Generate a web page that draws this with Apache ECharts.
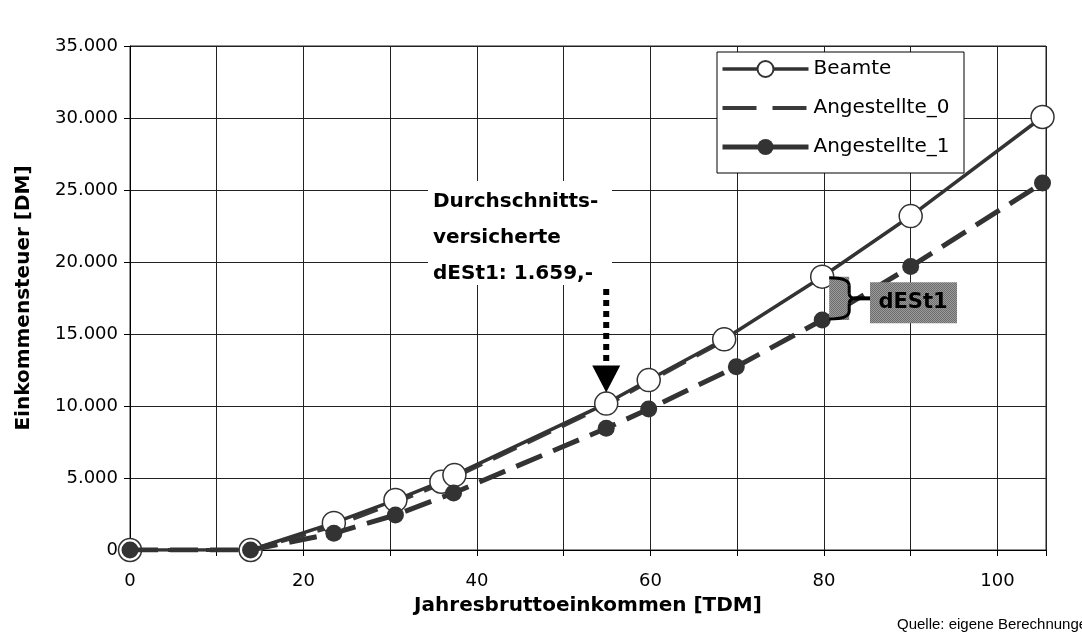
<!DOCTYPE html>
<html>
<head>
<meta charset="utf-8">
<script src="https://cdn.jsdelivr.net/npm/echarts@6/dist/echarts.min.js"></script>
<style>
  html, body { margin: 0; padding: 0; background: #fff; }
  #chart { width: 1082px; height: 637px; }
</style>
</head>
<body>
<div id="chart"></div>
<script>
  // Jahresbruttoeinkommen [TDM] / Einkommensteuer [DM]
  var beamteX = [0, 13.9, 23.5, 30.6, 35.9, 37.4, 54.9, 59.8, 68.5, 79.8, 90.0, 105.2]
  var beamteY = [0, 0, 1880, 3470, 4740, 5200, 10170, 11800, 14630, 18980, 23190, 30070]
  var ang0X = [0, 13.9, 23.5, 30.6, 35.9, 37.4, 54.9, 59.8, 68.5]
  var ang0Y = [0, 0, 1650, 3300, 4600, 5060, 10050, 11700, 14540]
  var ang1X = [0, 13.9, 23.5, 30.6, 37.3, 54.9, 59.8, 69.9, 79.8, 90.0, 105.2]
  var ang1Y = [0, 0, 1160, 2430, 3960, 8450, 9790, 12730, 15970, 19680, 25490]
  var noteLines = ['Durchschnitts-', 'versicherte', 'dESt1: 1.659,-']
  var noteAt = [54.9, 10170]   // Pfeil zeigt auf diesen Punkt
  var bracketAt = [79.8, 18980, 15970]

  var font = 'DejaVu Sans'
  var ink = '#333'

  function pairs(xs, ys) {
    return xs.map(function (x, i) { return [x, ys[i]] })
  }
  function dm(v) {
    return String(v).replace(/\B(?=(\d{3})+(?!\d))/g, '.')
  }

  // grau gepunktete Füllung wie im Original
  var pat = document.createElement('canvas')
  pat.width = 2; pat.height = 2
  var pc = pat.getContext('2d')
  pc.fillStyle = '#9a9a9a'; pc.fillRect(0, 0, 2, 2)
  pc.fillStyle = '#6e6e6e'; pc.fillRect(0, 0, 1, 1); pc.fillRect(1, 1, 1, 1)
  var texture = {image: pat, repeat: 'repeat'}

  var chart = echarts.init(document.getElementById('chart'))
  var option = {
    backgroundColor: '#fff',
    animation: false,
    textStyle: {fontFamily: font, color: '#000'},
    grid: {left: 130, right: 36, top: 46, bottom: 87, show: true, borderColor: '#222', borderWidth: 1},
    legend: {
      data: [
        {name: 'Beamte', lineStyle: {width: 3.5}},
        {name: 'Angestellte_0', itemStyle: {opacity: 0}, lineStyle: {type: [34, 16], width: 4}},
        {name: 'Angestellte_1', lineStyle: {type: 'solid', width: 5}}
      ],
      orient: 'vertical',
      left: 720, top: 59,
      itemWidth: 86, itemHeight: 20, itemGap: 19,
      padding: 0,
      textStyle: {fontFamily: font, fontSize: 20, color: '#000'},
      z: 20
    },
    xAxis: {
      type: 'value',
      min: 0, max: 105.6, interval: 10,
      name: 'Jahresbruttoeinkommen [TDM]',
      nameLocation: 'middle', nameGap: 46,
      nameTextStyle: {fontFamily: font, fontSize: 20, fontWeight: 'bold', color: '#000'},
      axisLine: {lineStyle: {color: '#000', width: 1}},
      axisTick: {show: true, length: 6, lineStyle: {color: '#000'}},
      axisLabel: {
        margin: 22, fontSize: 18, color: '#000', fontFamily: font,
        formatter: function (v) { return v % 20 === 0 ? String(v) : '' }
      },
      splitLine: {show: true, lineStyle: {color: '#222', width: 1}}
    },
    yAxis: {
      type: 'value',
      min: 0, max: 35000, interval: 5000,
      name: 'Einkommensteuer [DM]',
      nameLocation: 'middle', nameGap: 96,
      nameTextStyle: {fontFamily: font, fontSize: 20, fontWeight: 'bold', color: '#000'},
      axisLine: {show: true, lineStyle: {color: '#000', width: 1}},
      axisTick: {show: true, length: 6, lineStyle: {color: '#000'}},
      axisLabel: {margin: 12, fontSize: 18, color: '#000', fontFamily: font, formatter: dm},
      splitLine: {show: true, lineStyle: {color: '#222', width: 1}}
    },
    series: [
      {
        name: 'Angestellte_0',
        type: 'line',
        z: 2,
        data: pairs(ang0X, ang0Y),
        symbol: 'none',
        lineStyle: {color: '#3a3a3a', width: 4, type: [26, 12]},
        itemStyle: {color: '#3a3a3a'}
      },
      {
        name: 'Beamte',
        type: 'line',
        z: 3,
        data: pairs(beamteX, beamteY),
        symbol: 'circle',
        symbolSize: 23,
        lineStyle: {color: ink, width: 3.5},
        itemStyle: {color: '#fff', borderColor: ink, borderWidth: 1.5}
      },
      {
        name: 'Angestellte_1',
        type: 'line',
        z: 4,
        data: pairs(ang1X, ang1Y),
        symbol: 'circle',
        symbolSize: 17,
        lineStyle: {color: ink, width: 5, type: [28, 12]},
        itemStyle: {color: ink}
      }
    ]
  }
  chart.setOption(option)

  // Anmerkungen: Textkasten, Pfeil, Klammer dESt1
  var tip = chart.convertToPixel({gridIndex: 0}, noteAt)
  var bTop = chart.convertToPixel({gridIndex: 0}, [bracketAt[0], bracketAt[1]])
  var bBot = chart.convertToPixel({gridIndex: 0}, [bracketAt[0], bracketAt[2]])
  var ax = tip[0], tipY = tip[1] - 11
  var bx = bTop[0] + 7, by0 = bTop[1], by1 = bBot[1], bm = (by0 + by1) / 2
  var bw = 20, br = bx + bw
  var brace = {stroke: '#000', lineWidth: 3, fill: null}

  chart.setOption({
    graphic: [
      // Legendenrahmen
      {type: 'rect', z: 10, shape: {x: 717, y: 52, width: 247, height: 121},
        style: {fill: '#fff', stroke: '#000', lineWidth: 1}},
      // Textkasten
      {type: 'rect', z: 10, shape: {x: 428, y: 181, width: 184, height: 104},
        style: {fill: '#fff'}},
      {type: 'text', z: 11, x: 433, y: 184,
        style: {text: noteLines.join('\n'), font: 'bold 20px "' + font + '"', fill: '#000', lineHeight: 36}},
      // Pfeil
      {type: 'line', z: 11, shape: {x1: ax, y1: 289, x2: ax, y2: tipY - 26},
        style: {stroke: '#000', lineWidth: 6, lineDash: [6, 5]}},
      {type: 'polygon', z: 11, shape: {points: [[ax - 14, tipY - 27], [ax + 14, tipY - 27], [ax, tipY]]},
        style: {fill: '#000'}},
      // Klammer
      {type: 'rect', z: 11, shape: {x: bx, y: by0, width: bw, height: by1 - by0},
        style: {fill: texture}},
      {type: 'bezierCurve', z: 12, shape: {x1: bx, y1: by0 + 1, cpx1: br, cpy1: by0 + 1, x2: br, y2: by0 + 9}, style: brace},
      {type: 'line', z: 12, shape: {x1: br, y1: by0 + 9, x2: br, y2: bm - 5}, style: brace},
      {type: 'bezierCurve', z: 12, shape: {x1: br, y1: bm - 5, cpx1: br, cpy1: bm, x2: br + 6, y2: bm}, style: brace},
      {type: 'bezierCurve', z: 12, shape: {x1: br + 6, y1: bm, cpx1: br, cpy1: bm, x2: br, y2: bm + 5}, style: brace},
      {type: 'line', z: 12, shape: {x1: br, y1: bm + 5, x2: br, y2: by1 - 9}, style: brace},
      {type: 'bezierCurve', z: 12, shape: {x1: br, y1: by1 - 9, cpx1: br, cpy1: by1 - 1, x2: bx, y2: by1 - 1}, style: brace},
      {type: 'line', z: 12, shape: {x1: br + 5, y1: bm, x2: 870, y2: bm},
        style: {stroke: '#000', lineWidth: 4}},
      {type: 'rect', z: 11, shape: {x: 870, y: bm - 16, width: 87, height: 41},
        style: {fill: texture}},
      {type: 'text', z: 12, x: 913, y: bm + 4,
        style: {text: 'dESt1', font: 'bold 21px "' + font + '"', fill: '#000', align: 'center', verticalAlign: 'middle'}},
      // Quelle
      {type: 'text', z: 11, x: 897, y: 617,
        style: {text: 'Quelle: eigene Berechnungen', font: '15px "Liberation Sans"', fill: '#000'}}
    ]
  })
</script>
</body>
</html>
